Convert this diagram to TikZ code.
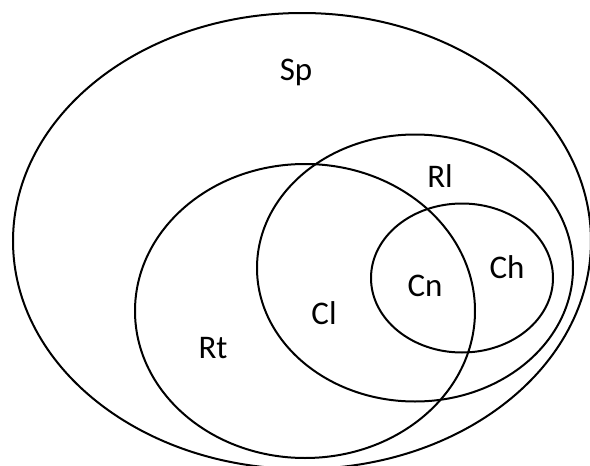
\documentclass[tikz,border=0pt]{standalone}
\usepackage{fontspec}
\setmainfont{Carlito}
\usepackage{tikz}
\usetikzlibrary{shapes.geometric}

\begin{document}
\begin{tikzpicture}[x=1pt,y=-1pt,
  set/.style={ellipse,draw=black,line width=2pt,inner sep=0pt},
  lab/.style={font=\fontsize{33}{38}\selectfont,inner sep=1pt}]
  \useasboundingbox (0,0) rectangle (590,466);
  % the four sets
  \foreach \n/\x/\y/\w/\h in {sp/302/241/578/456,rt/305/311/340/294,rl/415/268/316/267,ch/462/278/182/149}{
    \node[set,minimum width=\w pt,minimum height=\h pt] (\n) at (\x,\y) {};
  }
  % region names
  \foreach \n/\x/\y/\t in {lsp/296/72/Sp,lrl/440/176/Rl,lch/507/267/Ch,lcn/425/286/Cn,lcl/324/313/Cl,lrt/213/348/Rt}{
    \node[lab] (\n) at (\x,\y) {\t};
  }
\end{tikzpicture}
\end{document}
